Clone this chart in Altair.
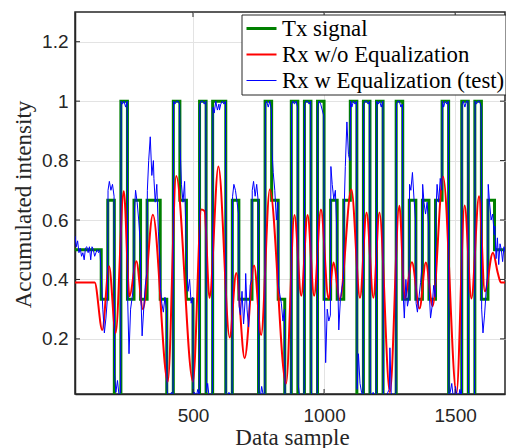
import altair as alt
import pandas as pd

# ---------------- data ----------------
X_DOMAIN = [50, 1690]
Y_DOMAIN = [0.0145, 1.3]

series_names = ["Tx signal", "Rx w/o Equalization", "Rx w Equalization (test)"]
series_colors = ["#008000", "#ff0000", "#0000ff"]
series_widths = [3, 1, 1]

# Tx: 4-level symbols (units of 1/3), 25 samples each, starting at sample 150
tx_start = 150
tx_period = 25
tx_idle_level = 0.5
tx_symbols = [1, 2, 0, 3, 1, 2, 1, 2, 2, 1,
              0, 3, 2, 1, 0, 3, 0, 3, 3, 0,
              2, 1, 1, 2, 0, 3, 2, 1, 0, 3,
              0, 3, 0, 3, 1, 2, 1, 2, 3, 0,
              3, 0, 3, 0, 0, 3, 1, 2, 1, 2,
              1, 2, 3, 0, 0, 3, 0, 3, 1, 2]

# Rx without equalization: key points of the smooth curve
red_x = [0, 125, 154, 180, 205, 236, 258, 284, 309, 347,
         404, 436, 500, 532, 544, 563, 597, 640, 665, 697,
         733, 760, 793, 855, 887, 913, 937, 962, 988, 1017,
         1036, 1060, 1104, 1137, 1162, 1188, 1211, 1251, 1287, 1308,
         1335, 1364, 1388, 1414, 1454, 1505, 1536, 1562, 1591, 1613,
         1644, 1663, 1674, 1700]
red_y = [0.39, 0.39, 0.23, 0.444, 0.22, 0.697, 0.343, 0.461, 0.30, 0.618,
         0.056, 0.748, 0.056, 0.635, 0.63, 0.338, 0.78, 0.205, 0.422, 0.135,
         0.447, 0.213, 0.703, 0.05, 0.617, 0.345, 0.617, 0.345, 0.635, 0.335,
         0.457, 0.332, 0.703, 0.338, 0.625, 0.338, 0.625, 0.02, 0.648, 0.335,
         0.458, 0.302, 0.457, 0.31, 0.746, 0.017, 0.649, 0.336, 0.68, 0.36,
         0.49, 0.42, 0.39, 0.39]

# Rx with equalization (noisy): idle part before the symbols, every 5 samples
blue_pre_x = [45, 50, 55, 60, 65, 70, 75, 80, 85, 90, 95, 100, 105, 110, 115, 120, 125, 130, 135, 140, 145]
blue_pre_y = [0.53, 0.545, 0.51, 0.53, 0.49, 0.505, 0.478, 0.49, 0.466, 0.506, 0.51,
              0.49, 0.51, 0.466, 0.51, 0.5, 0.478, 0.49, 0.5, 0.49, 0.5]
# values inside each symbol, at these offsets from the symbol start
blue_offsets = [1, 6, 12, 18, 24]
blue_sym = [
    [0.40, 0.30, 0.22, 0.27, 0.34], [0.70, 0.73, 0.70, 0.72, 0.68], [0.08, 0.02, 0.06, 0.01, 0.02],
    [1.0, 0.99, 1.0, 0.98, 1.0], [0.33, 0.15, 0.30, 0.34, 0.38], [0.62, 0.70, 0.66, 0.60, 0.52],
    [0.36, 0.21, 0.30, 0.38, 0.42], [0.70, 0.80, 0.88, 0.75, 0.80], [0.74, 0.66, 0.72, 0.56, 0.46],
    [0.37, 0.32, 0.29, 0.34, 0.30], [0.03, 0.0, 0.01, 0.02, 0.01], [1.0, 0.99, 1.0, 1.0, 0.99],
    [0.84, 0.72, 0.66, 0.73, 0.52], [0.45, 0.36, 0.40, 0.32, 0.34], [0.01, 0.02, 0.0, 0.03, 0.01],
    [0.99, 1.0, 1.0, 0.99, 1.0], [0.02, 0.05, 0.0, 0.01, 0.02], [0.98, 0.96, 1.0, 0.97, 0.99],
    [0.97, 0.99, 1.0, 0.99, 1.0], [0.01, 0.0, 0.02, 0.01, 0.0], [0.68, 0.72, 0.70, 0.66, 0.62],
    [0.31, 0.28, 0.36, 0.25, 0.33], [0.42, 0.30, 0.24, 0.38, 0.40], [0.70, 0.73, 0.68, 0.72, 0.66],
    [0.02, 0.0, 0.04, 0.01, 0.0], [0.99, 1.0, 0.98, 1.0, 0.97], [0.84, 0.76, 0.70, 0.60, 0.66],
    [0.38, 0.35, 0.32, 0.26, 0.30], [0.01, 0.0, 0.0, 0.01, 0.0], [0.99, 1.0, 0.99, 1.0, 0.98],
    [0.05, 0.01, 0.0, 0.0, 0.02], [0.99, 1.0, 1.0, 0.99, 1.0], [0.02, 0.0, 0.01, 0.0, 0.02],
    [0.98, 1.0, 0.99, 0.97, 0.95], [0.37, 0.12, 0.30, 0.26, 0.28], [0.78, 0.72, 0.67, 0.70, 0.55],
    [0.45, 0.23, 0.33, 0.37, 0.40], [0.62, 0.78, 0.93, 0.82, 0.80], [1.0, 0.98, 1.0, 0.99, 1.0],
    [0.03, 0.15, 0.05, 0.02, 0.0], [0.99, 1.0, 1.0, 0.99, 1.0], [0.01, 0.0, 0.02, 0.0, 0.01],
    [1.0, 0.99, 1.0, 0.98, 1.0], [0.0, 0.01, 0.0, 0.02, 0.03], [0.17, 0.02, 0.0, 0.01, 0.02],
    [0.99, 1.0, 1.0, 0.98, 0.99], [0.36, 0.27, 0.40, 0.31, 0.34], [0.72, 0.70, 0.76, 0.67, 0.60],
    [0.32, 0.29, 0.34, 0.39, 0.45], [0.72, 0.66, 0.62, 0.66, 0.58], [0.36, 0.27, 0.31, 0.38, 0.34],
    [0.62, 0.72, 0.66, 0.74, 0.70], [1.0, 0.98, 1.0, 0.99, 1.0], [0.0, 0.02, 0.05, 0.0, 0.01],
    [0.04, 0.01, 0.0, 0.03, 0.0], [0.99, 1.0, 0.98, 1.0, 1.0], [0.02, 0.0, 0.01, 0.0, 0.0],
    [1.0, 0.99, 1.0, 1.0, 0.98], [0.30, 0.22, 0.28, 0.36, 0.42], [0.72, 0.66, 0.60, 0.62, 0.55],
]
blue_post_x = [1651, 1656, 1661, 1666, 1671, 1676, 1681, 1686, 1691]
blue_post_y = [0.58, 0.47, 0.54, 0.45, 0.52, 0.50, 0.46, 0.51, 0.49]

x_ticks = [500, 1000, 1500]
y_ticks = [0.2, 0.4, 0.6, 0.8, 1.0, 1.2]

# ---------------- tables ----------------
tx_x = [0] + [tx_start + k * tx_period for k in range(len(tx_symbols))]
tx_x += [tx_start + len(tx_symbols) * tx_period, 1700]
tx_y = [tx_idle_level] + [s / 3 for s in tx_symbols] + [tx_idle_level, tx_idle_level]
df_tx = pd.DataFrame({"x": tx_x, "y": tx_y, "series": series_names[0]})

df_red = pd.DataFrame({"x": red_x, "y": red_y, "series": series_names[1]})

bx, by = list(blue_pre_x), list(blue_pre_y)
for k, vals in enumerate(blue_sym):
    for off, v in zip(blue_offsets, vals):
        bx.append(tx_start + k * tx_period + off)
        by.append(v)
bx += blue_post_x
by += blue_post_y
df_blue = pd.DataFrame({"x": bx, "y": by, "series": series_names[2]})

df_xt = pd.DataFrame({"x": x_ticks})
df_yt = pd.DataFrame({"y": y_ticks})

# ---------------- chart ----------------
W, H = 430, 382
AX = "#262626"
SERIF = "Liberation Serif"

x_axis = alt.Axis(values=x_ticks, format="d", title="Data sample", ticks=False, labelPadding=12,
                  labelFont="Liberation Sans", labelFontSize=19, labelColor=AX,
                  grid=True, gridColor="#e3e3e3", gridWidth=1,
                  domainColor=AX, domainWidth=1.5,
                  titleFont=SERIF, titleFontSize=23, titleFontWeight="normal",
                  titleColor=AX, titleBaseline="alphabetic", titleY=50.5, titleX=217)
y_axis = alt.Axis(values=y_ticks, format="~g", title="Accumulated intensity", ticks=False,
                  labelPadding=7, labelFont="Liberation Sans", labelFontSize=19, labelColor=AX,
                  grid=True, gridColor="#e3e3e3", gridWidth=1,
                  domainColor=AX, domainWidth=1.5,
                  titleFont=SERIF, titleFontSize=23, titleFontWeight="normal",
                  titleColor=AX, titleAngle=270, titleBaseline="alphabetic",
                  titleX=-45, titleY=192)

xs = alt.Scale(domain=X_DOMAIN, nice=False, zero=False)
ys = alt.Scale(domain=Y_DOMAIN, nice=False, zero=False)

leg = alt.Legend(orient="none", legendX=166.5, legendY=2.5, title=None, direction="vertical",
                 fillColor="white", strokeColor=AX, padding=1,
                 symbolType="stroke", symbolSize=900, symbolOffset=2.5, labelOffset=4,
                 labelFont=SERIF, labelFontSize=22.8, labelColor="black",
                 clipHeight=26, rowPadding=0, labelLimit=400)

color = alt.Color("series:N", scale=alt.Scale(domain=series_names, range=series_colors), legend=leg)
swidth = alt.StrokeWidth("series:N", scale=alt.Scale(domain=series_names, range=series_widths), legend=leg)


def line_layer(df, **mark_kw):
    return alt.Chart(df).mark_line(clip=True, **mark_kw).encode(
        x=alt.X("x:Q", scale=xs, axis=x_axis),
        y=alt.Y("y:Q", scale=ys, axis=y_axis),
        color=color,
        strokeWidth=swidth,
    )


tx_layer = line_layer(df_tx, interpolate="step-after", strokeJoin="miter")
red_layer = line_layer(df_red, interpolate="monotone")
blue_layer = line_layer(df_blue)

tick_kw = dict(color=AX, strokeWidth=1)
left_ticks = alt.Chart(df_yt).mark_rule(**tick_kw).encode(
    y=alt.Y("y:Q", scale=ys, axis=y_axis), x=alt.value(0), x2=alt.value(5))
right_ticks = alt.Chart(df_yt).mark_rule(**tick_kw).encode(
    y=alt.Y("y:Q", scale=ys, axis=y_axis), x=alt.value(W - 5), x2=alt.value(W))
bottom_ticks = alt.Chart(df_xt).mark_rule(**tick_kw).encode(
    x=alt.X("x:Q", scale=xs, axis=x_axis), y=alt.value(H - 5), y2=alt.value(H))
top_ticks = alt.Chart(df_xt).mark_rule(**tick_kw).encode(
    x=alt.X("x:Q", scale=xs, axis=x_axis), y=alt.value(0), y2=alt.value(5))

chart = alt.layer(
    tx_layer, red_layer, blue_layer, left_ticks, right_ticks, bottom_ticks, top_ticks
).properties(
    width=W, height=H,
    autosize=alt.AutoSizeParams(type="none"),
    padding={"left": 75, "top": 12, "right": 1, "bottom": 54},
    background="white",
).configure_view(stroke=AX, strokeWidth=1.5)

chart.save("out.html", embed_options={"renderer": "svg", "actions": False})
